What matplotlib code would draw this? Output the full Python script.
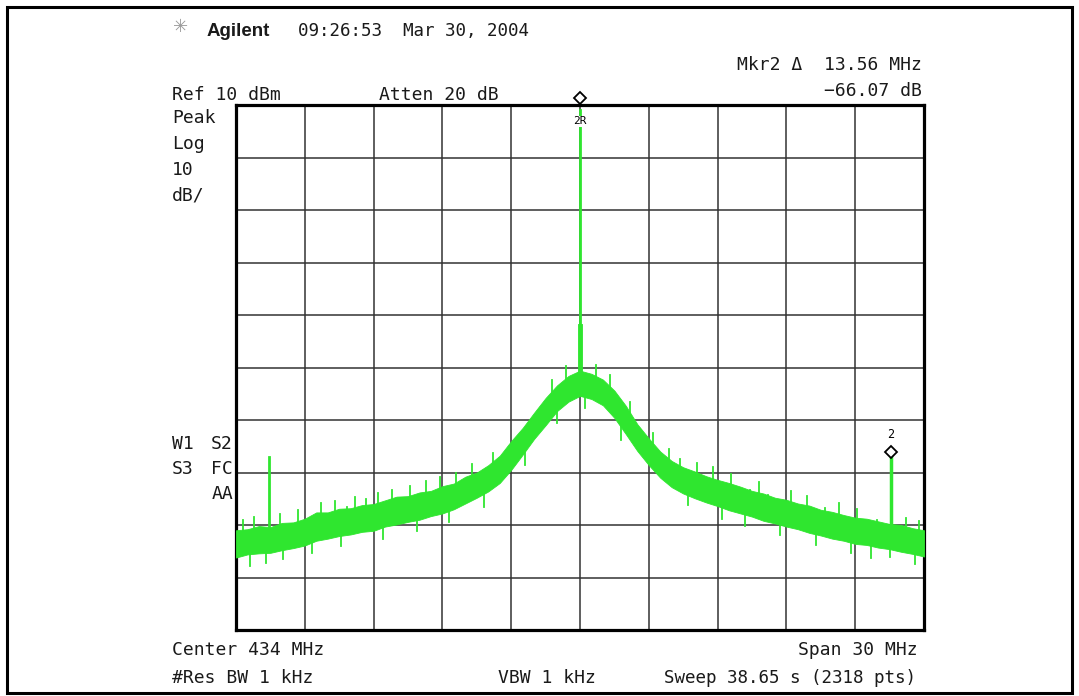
# spectrum analyzer screen capture: 434 MHz carrier, 30 MHz span

import numpy as np
import matplotlib.pyplot as plt
from matplotlib.patches import Rectangle

W, H = 1079, 696
GREEN = '#2fe62f'
MONO = 'DejaVu Sans Mono'

# trace noise band, 0.5 MHz steps (dBm)
freq = [419.0 + 0.5 * i for i in range(61)]
upper = [-71.0, -70.8, -70.2, -70.4, -69.6, -69.5, -68.8, -67.6, -67.6, -66.9,
         -66.8, -66.2, -66.0, -65.3, -64.6, -64.5, -63.8, -63.5, -62.6, -62.1,
         -60.8, -60.0, -58.6, -56.8, -54.0, -51.5, -48.6, -45.8, -43.4, -41.6,
         -40.6, -41.2, -42.3, -44.4, -47.3, -50.8, -53.5, -56.0, -57.8, -59.0,
         -59.8, -60.7, -61.4, -62.0, -62.7, -63.5, -64.0, -64.8, -65.2, -65.9,
         -66.3, -67.1, -67.5, -68.1, -68.6, -68.8, -69.3, -69.8, -70.0, -70.6,
         -71.0]
lower = [-76.2, -75.6, -75.4, -75.3, -74.8, -74.4, -73.9, -73.0, -72.6, -72.1,
         -71.8, -71.3, -71.1, -70.3, -69.9, -69.4, -69.0, -68.3, -67.8, -67.0,
         -65.9, -64.8, -63.6, -62.0, -59.5, -56.6, -53.6, -51.0, -48.3, -46.5,
         -45.4, -46.0, -47.2, -49.6, -52.7, -55.9, -58.6, -61.0, -62.8, -64.0,
         -64.9, -65.7, -66.4, -67.2, -67.8, -68.4, -69.2, -69.7, -70.3, -70.8,
         -71.5, -72.0, -72.6, -73.0, -73.6, -73.8, -74.3, -74.6, -75.1, -75.5,
         -76.0]

# noise spikes poking out of the band: (MHz, tip dBm)
spikes_up = [(419.3, -69.0), (419.8, -68.5), (420.9, -67.9), (421.7, -67.2),
             (422.7, -65.9), (423.3, -65.4), (423.84, -66.6), (424.2, -64.6),
             (424.67, -65.0), (425.2, -63.9), (425.8, -63.4), (426.15, -65.2),
             (426.6, -62.5), (427.3, -61.7), (427.9, -60.8), (428.6, -60.0),
             (429.3, -58.4), (430.2, -56.2), (432.8, -42.3), (433.4, -39.8),
             (434.7, -39.5), (435.3, -41.5), (436.2, -46.5), (437.2, -52.4),
             (437.9, -55.6), (438.36, -57.5), (439.1, -58.2), (439.8, -59.0),
             (440.6, -60.2), (441.4, -63.3), (441.8, -61.9), (442.2, -64.3),
             (443.2, -63.6), (443.9, -64.4), (444.7, -66.8), (445.3, -65.9),
             (446.1, -66.9), (446.95, -69.0), (448.2, -68.6), (448.8, -69.3)]
spikes_down = [(419.6, -77.8), (420.3, -77.2), (421.05, -76.5), (422.3, -75.3),
               (423.6, -74.0), (425.4, -72.6), (426.9, -71.2), (428.3, -69.5),
               (429.8, -66.5), (431.6, -58.6), (433.0, -50.5), (434.2, -47.8),
               (435.8, -53.9), (438.7, -66.2), (440.2, -68.8), (441.2, -70.2),
               (442.7, -71.9), (444.3, -73.9), (445.8, -75.3), (446.7, -76.2),
               (447.5, -76.0), (448.6, -77.5)]

# discrete signals
carrier_f, carrier_top, carrier_base = 434.0, 9.0, -43.0
closein_lo, closein_hi = -45.0, -32.0
spur_left_f, spur_left_top = 420.44, -57.0
spur_right_f, spur_right_top = 447.56, -56.1

fig = plt.figure(figsize=(W / 100, H / 100), dpi=100)
ax = fig.add_axes([236 / W, 1 - 630 / H, 688 / W, 525 / H])

ax.set_xlim(419, 449)
ax.set_ylim(-90, 10)
ax.set_xticks(np.arange(419, 450, 3))
ax.set_yticks(np.arange(-90, 11, 10))
ax.tick_params(length=0, labelbottom=False, labelleft=False)
ax.grid(True, color='#333333', lw=1.1)
for s in ax.spines.values():
    s.set_linewidth(2.3)
    s.set_color('black')

ax.fill_between(freq, lower, upper, color=GREEN, lw=0.6, zorder=3)
for f, tip in spikes_up:
    ax.plot([f, f], [tip - 4, tip], color=GREEN, lw=1.3, zorder=3)
for f, tip in spikes_down:
    ax.plot([f, f], [tip + 4, tip], color=GREEN, lw=1.3, zorder=3)

ax.plot([carrier_f, carrier_f], [carrier_base, carrier_top], color=GREEN, lw=2.0, zorder=4)
ax.plot([carrier_f, carrier_f], [closein_lo, closein_hi], color=GREEN, lw=3.5, zorder=4)
ax.plot([spur_left_f, spur_left_f], [-72.5, spur_left_top], color=GREEN, lw=2.0, zorder=4)
ax.plot([spur_right_f, spur_right_f], [-72.0, spur_right_top], color=GREEN, lw=2.5, zorder=4)

# markers
ax.plot(carrier_f, 11.3, marker='D', ms=6, mfc='white', mec='black', mew=1.3,
        clip_on=False, zorder=6)
ax.text(carrier_f, 6.9, '2R', fontsize=8, family=MONO, ha='center', va='center',
        zorder=6, bbox=dict(fc='white', ec='none', pad=0.3))
ax.plot(spur_right_f, spur_right_top, marker='D', ms=6, mfc='white', mec='black',
        mew=1.3, zorder=6)
ax.text(spur_right_f, -52.8, '2', fontsize=8.5, family=MONO, ha='center', va='center',
        zorder=6)


def label(x, y, s, ha='left', **kw):
    kw.setdefault('family', MONO)
    kw.setdefault('fontsize', 13)
    kw.setdefault('color', '#1a1a1a')
    fig.text(x / W, 1 - y / H, s, ha=ha, va='baseline', **kw)


fig.text(181 / W, 1 - 27 / H, '\u2733', ha='center', va='center',
         family='DejaVu Sans', fontsize=13, color='#9a9a9a')
label(207, 36, 'Agilent', family='Liberation Sans', fontweight='bold', fontsize=13.5)
label(298, 36, '09:26:53  Mar 30, 2004', fontsize=12.6)
label(922, 70, 'Mkr2 \u0394  13.56 MHz', ha='right')
label(922, 96, '\u221266.07 dB', ha='right')
label(172, 100, 'Ref 10 dBm')
label(379, 100, 'Atten 20 dB')
label(172, 123, 'Peak')
label(172, 149, 'Log')
label(172, 175, '10')
label(172, 201, 'dB/')
label(172, 449, 'W1')
label(233, 449, 'S2', ha='right')
label(172, 474, 'S3')
label(233, 474, 'FC', ha='right')
label(233, 499, 'AA', ha='right')
label(172, 655, 'Center 434 MHz')
label(918, 655, 'Span 30 MHz', ha='right')
label(172, 683, '#Res BW 1 kHz')
label(498, 683, 'VBW 1 kHz')
label(916, 683, 'Sweep 38.65 s (2318 pts)', ha='right', fontsize=12.6)

# outer frame of the capture
fig.patches.append(Rectangle((7 / W, 1 - 693 / H), 1065 / W, 686 / H,
                             transform=fig.transFigure, fill=False,
                             ec='black', lw=2.2))

fig.savefig('out.png', dpi=100)
